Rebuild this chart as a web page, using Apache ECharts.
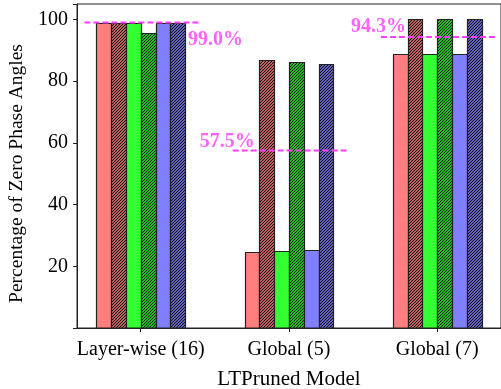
<!DOCTYPE html>
<html>
<head>
<meta charset="utf-8">
<script src="https://cdn.jsdelivr.net/npm/echarts@6/dist/echarts.min.js"></script>
<style>
  html, body { margin: 0; padding: 0; background: #fff; }
  #chart { width: 501px; height: 389px; }
</style>
</head>
<body>
<div id="chart"></div>
<script>
// Pruned models on the x axis
const categories = ['Layer-wise (16)', 'Global (5)', 'Global (7)'];
// Share of zero phase angles (%) per model, six bars per group
const redSolid     = [99.0, 24.5, 88.7];
const redHatched   = [99.0, 86.7, 100.0];
const greenSolid   = [99.0, 24.8, 88.7];
const greenHatched = [95.6, 86.1, 100.0];
const blueSolid    = [99.0, 25.3, 88.7];
const blueHatched  = [99.0, 85.5, 100.0];
// Group averages shown as dashed reference lines
const averages = [99.0, 57.5, 94.3];
// Y tick labels
const yTicks = [20, 40, 60, 80, 100];

const FONT = 'Liberation Serif';
const BAR_W = 0.1;

// Diagonal '////' hatch tile: two stripes in a 6px tile give a 3px pitch
function hatchPattern(base) {
  const s = 6, step = 3;
  const c = document.createElement('canvas');
  c.width = s; c.height = s;
  const g = c.getContext('2d');
  g.fillStyle = base;
  g.fillRect(0, 0, s, s);
  g.strokeStyle = '#111';
  g.lineWidth = 1.1;
  g.beginPath();
  for (let k = -s; k <= 2 * s; k += step) {
    g.moveTo(k - s - 1, s + 1);
    g.lineTo(k + 1, -1);
  }
  g.stroke();
  return { image: c, repeat: 'repeat' };
}

const RED = '#ff7f7f', GREEN = '#33ff33', BLUE = '#7f7fff';
const barSeries = [
  { values: redSolid,     fill: RED,                 offset: -0.25 },
  { values: redHatched,   fill: hatchPattern(RED),   offset: -0.15 },
  { values: greenSolid,   fill: GREEN,               offset: -0.05 },
  { values: greenHatched, fill: hatchPattern(GREEN), offset:  0.05 },
  { values: blueSolid,    fill: BLUE,                offset:  0.15 },
  { values: blueHatched,  fill: hatchPattern(BLUE),  offset:  0.25 }
];

function barRenderer(offset, fill) {
  return function (params, api) {
    const gi = api.value(0);
    const v = api.value(1);
    const a = api.coord([gi + offset - BAR_W / 2, v]);
    const b = api.coord([gi + offset + BAR_W / 2, 0]);
    const x0 = Math.round(a[0]) + 0.5, x1 = Math.round(b[0]) + 0.5;
    const y0 = Math.round(a[1]) + 0.5, y1 = b[1];
    return {
      type: 'rect',
      shape: { x: x0, y: y0, width: x1 - x0, height: y1 - y0 },
      style: { fill: fill, stroke: '#222', lineWidth: 1.2 }
    };
  };
}

const series = barSeries.map(s => ({
  type: 'custom',
  renderItem: barRenderer(s.offset, s.fill),
  data: s.values.map((v, i) => [i, v]),
  clip: false,
  z: 2
}));

// Dashed average lines spanning each group
const LINE_FROM = -0.38, LINE_TO = 0.40;
averages.forEach((v, i) => {
  series.push({
    type: 'line',
    data: [[i + LINE_FROM, v], [i + LINE_TO, v]],
    symbol: 'none',
    lineStyle: { color: '#ff3cff', width: 2, type: [6, 3] },
    z: 5
  });
});

// Percent annotations next to each dashed line
const notePlacement = [
  { at: LINE_TO,   align: 'left',  offset: [-12, 17] },
  { at: LINE_FROM, align: 'right', offset: [22, -9] },
  { at: LINE_FROM, align: 'right', offset: [25, -10] }
];
averages.forEach((v, i) => {
  const p = notePlacement[i];
  series.push({
    type: 'scatter',
    data: [[i + p.at, v]],
    symbolSize: 0.1,
    itemStyle: { color: 'transparent' },
    label: {
      show: true,
      position: 'inside',
      align: p.align,
      verticalAlign: 'middle',
      offset: p.offset,
      formatter: v.toFixed(1) + '%',
      color: '#ff3cff',
      fontFamily: FONT,
      fontWeight: 'bold',
      fontSize: 20
    },
    z: 6
  });
});

const chart = echarts.init(document.getElementById('chart'), null, { renderer: 'canvas' });
chart.setOption({
  animation: false,
  backgroundColor: '#fff',
  textStyle: { fontFamily: FONT },
  grid: {
    left: 77, right: 0, top: 4, bottom: 61,
    outerBoundsMode: 'none', containLabel: false,
    show: true, borderColor: '#222', borderWidth: 1
  },
  xAxis: {
    type: 'value',
    min: -0.43,
    max: 2.43,
    name: 'LTPruned Model',
    nameLocation: 'middle',
    nameGap: 41,
    nameTextStyle: { fontFamily: FONT, fontSize: 21, color: '#000' },
    axisLine: { show: true, onZero: false, lineStyle: { color: '#222', width: 1 } },
    axisTick: { show: true, length: 4, customValues: [0, 1, 2], lineStyle: { color: '#222' } },
    axisLabel: {
      customValues: [0, 1, 2],
      formatter: v => categories[Math.round(v)],
      fontFamily: FONT, fontSize: 20, color: '#000', margin: 12
    },
    splitLine: { show: false }
  },
  yAxis: {
    type: 'value',
    min: 0,
    max: 105,
    interval: 20,
    name: 'Percentage of Zero Phase Angles',
    nameLocation: 'middle',
    nameGap: 45,
    nameTextStyle: { fontFamily: FONT, fontSize: 19.5, color: '#000', padding: [0, 15, 0, 0] },
    axisLine: { show: true, onZero: false, lineStyle: { color: '#222', width: 1 } },
    axisTick: { show: true, length: 4, lineStyle: { color: '#222' } },
    axisLabel: {
      formatter: v => (yTicks.indexOf(v) >= 0 ? String(v) : ''),
      fontFamily: FONT, fontSize: 20, color: '#000', margin: 9
    },
    splitLine: { show: false }
  },
  series: series
});
</script>
</body>
</html>
